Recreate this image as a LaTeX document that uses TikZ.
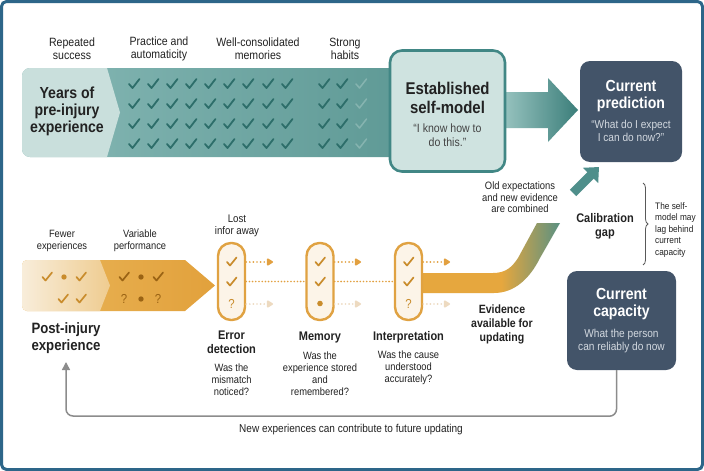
\documentclass[tikz,border=0pt]{standalone}
\usepackage{fontspec}
\setmainfont{Liberation Sans}[FakeStretch=0.88]
\usetikzlibrary{arrows.meta,calc,decorations.pathreplacing}
\definecolor{frameC}{HTML}{2D6689}
\definecolor{txtC}{HTML}{222222}
\definecolor{tbL}{HTML}{86B8B5}
\definecolor{tbR}{HTML}{5E9995}
\definecolor{tlight}{HTML}{C9DFDC}
\definecolor{chkT}{HTML}{2D6E6A}
\definecolor{chkF}{HTML}{86B4B0}
\definecolor{estF}{HTML}{CFE3E0}
\definecolor{estB}{HTML}{418785}
\definecolor{arL}{HTML}{A2CBC7}
\definecolor{arR}{HTML}{3B7E7A}
\definecolor{darkC}{HTML}{435469}
\definecolor{subW}{HTML}{D3D9E0}
\definecolor{calA}{HTML}{4F8F8B}
\definecolor{oL1}{HTML}{F8EDDA}
\definecolor{oL2}{HTML}{EFCC90}
\definecolor{oD1}{HTML}{E9B558}
\definecolor{oD2}{HTML}{E2A13C}
\definecolor{chkOL}{HTML}{C98C2C}
\definecolor{chkOD}{HTML}{9A6314}
\definecolor{pillB}{HTML}{E0A242}
\definecolor{pillF}{HTML}{FCF4E8}
\definecolor{dotC}{HTML}{E2A040}
\definecolor{fadeC}{HTML}{EDDAC0}
\definecolor{evO}{HTML}{E6A73E}
\definecolor{evT}{HTML}{5A9182}
\definecolor{fbC}{HTML}{8C8C8C}
\pgfdeclarehorizontalshading{evidsh}{100bp}{color(0bp)=(evO); color(25bp)=(evO); color(54bp)=(evO); color(75bp)=(evT); color(100bp)=(evT)}
\newcommand\myfs[2]{\fontsize{#1}{#2}\selectfont}
\begin{document}
\begin{tikzpicture}[x=1pt,y=-1pt,
  lbl/.style={font=\myfs{12}{12.8}, align=center, text=txtC, inner sep=0},
  smalltxt/.style={font=\myfs{10.6}{12}, align=center, text=txtC, inner sep=0},
  ttl/.style={font=\bfseries\myfs{12.5}{14}, align=center, text=txtC, inner sep=0},
  bigttl/.style={font=\bfseries\myfs{16}{17}, align=center, text=txtC, inner sep=0},
  wttl/.style={font=\bfseries\myfs{16}{17}, align=center, text=white, inner sep=0},
  wsub/.style={font=\myfs{11.5}{12.5}, align=center, text=subW, inner sep=0},
  darkbox/.style={fill=darkC, rounded corners=10, inner sep=0},
  pill/.style={draw=pillB, fill=pillF, line width=2.4, rounded corners=13, minimum width=27, minimum height=77, inner sep=0},
  chk/.pic={\draw[pic actions, line cap=round, line join=round] (-5,0) -- (-1.5,4) -- (5.5,-5);},
  ochk/.pic={\draw[pic actions, line cap=round, line join=round] (-4.5,0) -- (-1.5,3.5) -- (5,-4.5);},
  qm/.style={font=\myfs{13}{13}, inner sep=0},
  dotar/.style={draw=dotC, line width=1.9, line cap=round, dash pattern=on 0pt off 3.6pt, -{Triangle[length=7pt,width=8pt,round]}},
  dotfade/.style={dotar, draw=fadeC},
  midline/.style={draw=dotC, line width=1.8, line cap=round, dash pattern=on 0pt off 3.2pt}
]
\useasboundingbox (0,0) rectangle (704,471);
\fill[white] (0,0) rectangle (704,471);

% ---------- top row labels
\node[lbl] (l1) at (72,48.5) {Repeated\\success};
\node[lbl] (l2) at (159,48.5) {Practice and\\automaticity};
\node[lbl] (l3) at (258,48.5) {Well-consolidated\\memories};
\node[lbl] (l4) at (345,48.5) {Strong\\habits};

% ---------- top band
\shade[left color=tbL, right color=tbR, rounded corners=8] (22,68) rectangle (410,157);
\begin{scope}
  \clip[rounded corners=8] (22,68) rectangle (410,157);
  \fill[tlight] (22,68) -- (107,68) -- (120,112.5) -- (107,157) -- (22,157) -- cycle;
\end{scope}
\node[bigttl] (years) at (67,111) {Years of\\pre-injury\\experience};
\foreach \cx in {134,153,172,191,210,229,248,268,287,324,342}
  \foreach \cy in {84,104,124,144}
    \pic[draw=chkT, line width=1.8] at (\cx,\cy) {chk};
\foreach \cy in {84,104,124,144}
  \pic[draw=chkF, line width=1.5] at (361,\cy) {chk};

% ---------- big arrow to prediction
\shade[left color=arL, right color=arR] (495,92) -- (548,92) -- (548,78) -- (578,110) -- (548,142) -- (548,128) -- (495,128) -- cycle;

% ---------- established self-model
\node[draw=estB, fill=estF, line width=2.6, rounded corners=12, minimum width=115, minimum height=121, inner sep=0] (est) at (447.5,111) {};
\node[font=\bfseries\myfs{17}{19}, align=center, text=txtC, inner sep=0] (estt) at (447.5,97.5) {Established\\self-model};
\node[font=\myfs{12}{14}, align=center, text=txtC!85!white, inner sep=0] (estq) at (447.5,135) {“I know how to\\do this.”};

% ---------- current prediction
\node[darkbox, minimum width=102, minimum height=101] (pred) at (631,111.5) {};
\node[wttl] (predt) at (631,96.5) {Current\\prediction};
\node[wsub] (predq) at (631,131) {“What do I expect\\I can do now?”};

% ---------- calibration arrow and text
\coordinate (ca1) at (573,193);
\coordinate (ca2) at (599,167);
\draw[draw=calA, line width=9, -{Triangle[length=12pt,width=21pt]}] (ca1) -- (ca2);
\node[font=\myfs{10.7}{11.6}, align=center, text=txtC, inner sep=0] (old) at (520,197.5) {Old expectations\\and new evidence\\are combined};
\node[font=\bfseries\myfs{12.5}{14}, align=center, text=txtC, inner sep=0] (calib) at (605,226) {Calibration\\gap};
\coordinate (br1) at (643,183);
\coordinate (br2) at (643,265);
\draw[decorate, decoration={brace, amplitude=5pt}, draw=txtC!75!white, line width=0.8] (br1) -- (br2);
\node[font=\myfs{9.4}{11.5}, align=left, text=txtC, inner sep=0, anchor=west] (lag) at (655,230) {The self-\\model may\\lag behind\\current\\capacity};

% ---------- current capacity
\node[darkbox, minimum width=109, minimum height=99] (cap) at (621.5,320.5) {};
\node[wttl] (capt) at (621.5,304.5) {Current\\capacity};
\node[wsub] (capq) at (621.5,341) {What the person\\can reliably do now};

% ---------- orange band
\begin{scope}
  \clip[rounded corners=5] (22,260) rectangle (230,311);
  \shade[left color=oD1, right color=oD2] (22,260) -- (185,260) -- (215,285.5) -- (185,311) -- (22,311) -- cycle;
  \shade[left color=oL1, right color=oL2] (22,260) -- (100,260) -- (110,285.5) -- (100,311) -- (22,311) -- cycle;
\end{scope}
\node[smalltxt] (fewer) at (62,240.5) {Fewer\\experiences};
\node[smalltxt] (varp) at (140,240.5) {Variable\\performance};
\pic[draw=chkOL, line width=1.7] at (47,277) {ochk};
\fill[chkOL] (64,277) circle (2.7);
\pic[draw=chkOL, line width=1.7] at (81,277) {ochk};
\pic[draw=chkOL, line width=1.7] at (63,299) {ochk};
\pic[draw=chkOL, line width=1.7] at (81,299) {ochk};
\pic[draw=chkOD, line width=1.7] at (124,277) {ochk};
\fill[chkOD] (141,277) circle (2.7);
\pic[draw=chkOD, line width=1.7] at (158,277) {ochk};
\node[qm, text=chkOD] (q1) at (124,299) {?};
\fill[chkOD] (141,299) circle (2.7);
\node[qm, text=chkOD] (q2) at (158,299) {?};
\node[font=\bfseries\myfs{15}{17}, align=center, text=txtC, inner sep=0] (post) at (66,338.5) {Post-injury\\experience};

% ---------- evidence band
\shade[shading=evidsh] (420,273) -- (493,273) .. controls (506,273) and (512,267) .. (518,258) -- (537,223) -- (560,223) -- (540,258) .. controls (530,278) and (515,293) .. (494,293) -- (420,293) -- cycle;

% ---------- pills
\node[pill] (p1) at (231.5,281.5) {};
\node[pill] (p2) at (320,281.5) {};
\node[pill] (p3) at (408.5,281.5) {};
\foreach \p in {p1,p2,p3}{
  \pic[draw=chkOL, line width=1.7] at ($(\p.center)+(0,-19.5)$) {ochk};
  \pic[draw=chkOL, line width=1.7] at ($(\p.center)+(0,0.5)$) {ochk};
}
\node[qm, text=chkOL] (pq1) at ($(p1.center)+(0,22)$) {?};
\fill[chkOL] ($(p2.center)+(0,22)$) circle (2.8);
\node[qm, text=chkOL] (pq3) at ($(p3.center)+(0,22)$) {?};

\coordinate (a1) at (273,262); \coordinate (b1) at (273,304);
\coordinate (a2) at (361,262); \coordinate (b2) at (361,304);
\coordinate (a3) at (450,262); \coordinate (b3) at (450,304);
\draw[dotar] (p1.east |- a1) -- (a1);
\draw[dotfade] (p1.east |- b1) -- (b1);
\draw[dotar] (p2.east |- a2) -- (a2);
\draw[dotfade] (p2.east |- b2) -- (b2);
\draw[dotar] (p3.east |- a3) -- (a3);
\draw[dotfade] (p3.east |- b3) -- (b3);
\draw[midline] (p1.east) -- (p2.west);
\draw[midline] (p2.east) -- (p3.west);

\node[font=\myfs{11}{12.2}, align=center, text=txtC, inner sep=0] (lost) at (237,226) {Lost\\infor away};

\node[ttl] (errt) at (231.5,342) {Error\\detection};
\node[smalltxt] (errq) at (231.5,379.5) {Was the\\mismatch\\noticed?};
\node[ttl] (memt) at (320,337) {Memory};
\node[smalltxt] (memq) at (320,373.5) {Was the\\experience stored\\and\\remembered?};
\node[ttl] (intt) at (408.5,337) {Interpretation};
\node[smalltxt] (intq) at (408.5,368) {Was the cause\\understood\\accurately?};
\node[font=\bfseries\myfs{12}{14}, align=center, text=txtC, inner sep=0] (evid) at (502,324) {Evidence\\available for\\updating};

% ---------- feedback loop
\coordinate (fbend) at (66,362);
\draw[draw=fbC, line width=1.5, rounded corners=7, -{Triangle[length=8pt,width=8pt]}] ($(cap.south)+(-5,0)$) -- ($(cap.south)+(-5,46)$) -- (66,416) -- (fbend);
\node[font=\myfs{11.4}{12}, text=txtC, inner sep=0] (newexp) at (351,430) {New experiences can contribute to future updating};

% ---------- frame
\draw[frameC, line width=3, rounded corners=5] (1.5,1.5) rectangle (702.5,469.5);
\end{tikzpicture}
\end{document}
